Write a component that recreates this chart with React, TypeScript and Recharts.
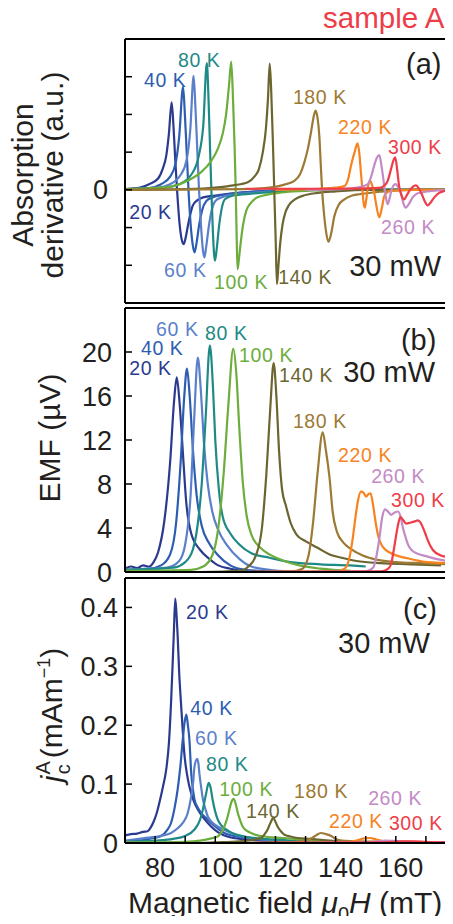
import React from 'react';
import { LineChart, Line, XAxis, YAxis, ReferenceDot } from 'recharts';

type Pt = [number, number];

const FONT = '"Liberation Sans", Arial, Helvetica, sans-serif';
const INK = '#231f20';

const temps = ['20 K', '40 K', '60 K', '80 K', '100 K', '140 K', '180 K', '220 K', '260 K', '300 K'];
const colors = ['#2b3a8f', '#2d5db1', '#5b80cb', '#1e8a86', '#6cad3c', '#6b6630', '#9c7a35', '#f7831f', '#c48ac5', '#ee3d48'];

const fieldTicks = [80, 90, 100, 110, 120, 130, 140, 150, 160, 170];

// (a) absorption derivative, arbitrary units  [mT, value]
const abs20: Pt[] = [[70, 0.02], [75, 0.06], [78, 0.15], [81, 0.3], [82.5, 0.55], [83.7, 0.9], [84.6, 1.5], [85.5, 2.32], [86.1, 1.7], [86.7, 0.8], [87.3, 0], [88.1, -0.87], [88.8, -1.3], [89.5, -1.44], [90.2, -1.25], [90.9, -0.95], [91.7, -0.65], [92.5, -0.42], [94, -0.28], [96, -0.2], [100, -0.15], [105, -0.1], [112, -0.05], [120, -0.02], [130, 0], [180, 0]];
const abs40: Pt[] = [[70, 0.02], [78, 0.05], [82, 0.15], [85, 0.35], [86.8, 0.7], [88, 1.4], [89.3, 2.73], [89.9, 2.0], [90.5, 1.0], [91.1, 0], [91.8, -0.9], [92.5, -1.45], [93.1, -1.66], [93.8, -1.4], [94.6, -0.95], [95.6, -0.55], [97, -0.3], [99, -0.2], [103, -0.13], [108, -0.08], [115, -0.04], [125, 0], [180, 0]];
const abs60: Pt[] = [[70, 0.02], [80, 0.05], [85, 0.15], [88.5, 0.4], [90.5, 0.8], [91.7, 1.6], [92.8, 3.02], [93.4, 2.2], [94, 1.1], [94.6, 0], [95.3, -1.0], [95.9, -1.6], [96.4, -1.79], [97, -1.5], [97.8, -1.0], [98.8, -0.55], [100, -0.3], [102, -0.2], [106, -0.13], [112, -0.08], [120, -0.04], [130, 0], [180, 0]];
const abs80: Pt[] = [[70, 0.02], [82, 0.05], [88, 0.15], [92, 0.4], [94.5, 0.9], [96, 1.7], [97.2, 3.36], [97.8, 2.3], [98.3, 1.0], [98.7, 0], [99.2, -1.1], [99.6, -1.7], [99.9, -1.88], [100.5, -1.55], [101.2, -1.0], [102, -0.55], [103.2, -0.25], [106, -0.15], [112, -0.1], [120, -0.05], [130, 0], [180, 0]];
const abs100: Pt[] = [[70, 0.02], [80, 0.05], [86, 0.1], [91, 0.25], [95.3, 0.47], [98.5, 0.75], [100.8, 1.08], [102.5, 1.5], [103.6, 2.0], [104.6, 2.8], [105.3, 3.4], [105.9, 2.4], [106.4, 1.2], [106.8, 0], [107.1, -1.2], [107.4, -2.1], [107.9, -1.8], [108.6, -1.3], [109.3, -0.9], [110.3, -0.55], [111.5, -0.38], [113.5, -0.22], [116, -0.15], [122, -0.07], [130, -0.03], [140, 0], [180, 0]];
const abs140: Pt[] = [[70, 0], [90, 0.02], [100, 0.06], [106, 0.12], [110.8, 0.2], [113, 0.35], [114.5, 0.55], [115.8, 1.0], [116.8, 1.6], [117.5, 2.4], [118.1, 3.35], [118.6, 2.6], [119.1, 1.4], [119.6, 0], [120.1, -1.4], [120.5, -2.5], [121, -2.0], [121.6, -1.4], [122.4, -0.9], [123.3, -0.6], [124.5, -0.4], [126.5, -0.25], [129, -0.16], [134, -0.08], [140, -0.04], [150, 0], [180, 0]];
const abs180: Pt[] = [[70, 0], [110, 0.02], [118, 0.06], [123, 0.14], [126.3, 0.24], [128.2, 0.42], [129.6, 0.73], [130.8, 1.1], [131.8, 1.52], [132.6, 1.9], [133.3, 2.1], [134, 1.9], [134.6, 1.4], [135.1, 0.6], [135.5, 0], [136.1, -0.6], [136.8, -1.1], [137.6, -1.38], [138.4, -1.2], [139.6, -0.69], [141, -0.4], [142.9, -0.25], [145.5, -0.15], [148.4, -0.11], [155, -0.05], [165, 0], [180, 0]];
const abs220: Pt[] = [[120, 0], [135, 0.03], [140, 0.06], [142.9, 0.1], [144.2, 0.3], [145.1, 0.64], [146.3, 1.0], [147.3, 1.23], [147.9, 0.95], [148.4, 0.46], [148.9, 0], [149.3, -0.35], [149.7, -0.47], [150.1, -0.3], [150.6, 0], [151, 0.18], [151.5, 0.24], [152, 0.15], [152.8, -0.07], [153.5, -0.4], [154.5, -0.73], [155.3, -0.5], [156.2, -0.16], [157.3, -0.06], [158.4, -0.03], [165, 0], [180, 0]];
const abs260: Pt[] = [[130, 0], [142, 0.02], [147, 0.06], [150.7, 0.15], [151.8, 0.35], [152.8, 0.64], [153.7, 0.85], [154.5, 0.92], [155.3, 0.6], [156, 0.2], [156.5, -0.1], [157.3, -0.38], [158, -0.2], [158.6, 0], [159.3, 0.12], [160, 0.15], [160.8, 0.07], [161.7, -0.07], [162.5, -0.35], [163.3, -0.47], [164.3, -0.38], [165.6, -0.2], [167, -0.1], [168.4, -0.07], [172, -0.03], [180, 0]];
const abs300: Pt[] = [[110, 0.03], [120, 0.03], [140, 0.03], [150, 0.04], [155.1, 0.06], [156.3, 0.12], [157.3, 0.24], [158.4, 0.55], [159.2, 0.78], [159.8, 0.86], [160.5, 0.5], [161.1, 0.1], [161.9, -0.15], [162.8, -0.25], [163.6, -0.15], [164.5, -0.03], [165.6, 0.08], [166.7, 0.12], [167.7, 0.03], [168.6, -0.11], [169.6, -0.3], [170.6, -0.41], [171.7, -0.32], [172.8, -0.2], [174.4, -0.08], [176.1, -0.03], [180, 0.02]];

// (b) EMF in µV
const emf20: Pt[] = [[70, 0.3], [72, 0.5], [74, 0.35], [76, 0.6], [78, 0.5], [79.5, 0.9], [81, 1.8], [83, 4.5], [85, 10], [86.3, 15.5], [87.2, 17.7], [88.1, 15.5], [89.2, 11], [90.3, 6.5], [92, 3.5], [95, 2.0], [98, 1.2], [101, 0.6], [105, 0.3], [110, 0.1], [120, 0.05]];
const emf40: Pt[] = [[70, 0.2], [78, 0.3], [82, 0.6], [85, 1.6], [87, 4.5], [88.5, 10], [89.7, 16], [90.6, 18.5], [91.5, 16], [92.6, 11], [93.8, 7], [95.5, 4.2], [98, 2.6], [101, 1.5], [105, 0.6], [110, 0.2], [120, 0.05]];
const emf60: Pt[] = [[70, 0.2], [84, 0.4], [88, 1], [90, 2.5], [91.8, 7], [93, 14], [94.2, 19.5], [95.2, 16.5], [96.3, 11.5], [97.5, 8], [99, 5.5], [101, 3.8], [104, 2.4], [108, 1.2], [112, 0.5], [118, 0.2], [125, 0.05]];
const emf80: Pt[] = [[70, 0.2], [86, 0.4], [90, 0.9], [92.5, 2], [94, 4], [95.5, 8], [96.8, 14], [98.2, 20.6], [99.2, 17], [100, 12], [101.2, 7.5], [102.5, 5], [105, 3.5], [108, 2.5], [112, 1.7], [118, 1.3], [125, 0.9], [135, 0.7], [145, 0.6], [150, 0.5]];
const emf100: Pt[] = [[70, 0.1], [92, 0.2], [96, 0.5], [99, 1.5], [101, 4], [102.8, 9], [104.3, 15], [106, 20.3], [107, 18], [108, 13], [109.2, 8], [110.5, 5], [112, 3.4], [115, 2.2], [118, 1.6], [122, 1.1], [128, 0.6], [135, 0.3], [145, 0.1]];
const emf140: Pt[] = [[95, 0], [108, 0.1], [111, 0.5], [113.5, 1.5], [115.5, 4], [117, 9], [118.3, 15], [119.4, 19], [120.3, 16], [121.2, 11], [122.2, 7.5], [123.5, 6], [125, 4.5], [127, 3.4], [130, 2.8], [134, 2.2], [138, 1.6], [142, 1.3], [147, 1.0], [155, 0.8], [165, 0.7], [175, 0.6]];
const emf180: Pt[] = [[105, 0], [125, 0.05], [129, 0.3], [131, 1.5], [132.5, 4.5], [134, 9], [135.7, 12.7], [136.8, 11], [138, 8.5], [139, 5.5], [140.5, 3.6], [142.5, 2.7], [145, 2.1], [149, 1.5], [154, 1.1], [160, 0.9], [168, 0.8], [178, 0.7]];
const emf220: Pt[] = [[120, 0], [140, 0.05], [143, 0.3], [144.5, 1.2], [145.6, 2.9], [146.6, 5], [147.5, 6.6], [148.4, 7.3], [149.3, 7.2], [150.1, 6.85], [151, 7.1], [151.6, 7.15], [152.5, 6], [153.3, 4.5], [154.2, 3.2], [155.6, 2.3], [158.4, 1.7], [163.9, 1.25], [170.6, 0.9], [180, 0.8]];
const emf260: Pt[] = [[120, 0], [150, 0.05], [152.5, 0.4], [153.6, 1.5], [154.5, 3], [155.5, 5], [156.4, 5.7], [157.4, 5.5], [158.4, 5.2], [159.6, 5.4], [160.8, 5.5], [161.6, 5], [162.3, 4.1], [163.2, 3.2], [163.9, 2.6], [166.1, 1.8], [170.6, 1.4], [175, 1.1], [180, 0.9]];
const emf300: Pt[] = [[110, 0], [155, 0.05], [157.5, 0.3], [158.4, 0.7], [159.5, 2.3], [160.6, 4.1], [161.5, 5], [162.5, 4.7], [163.4, 4.4], [165, 4.5], [166.3, 4.6], [167.3, 4.7], [168.2, 4.5], [168.9, 4.1], [169.8, 3.5], [170.6, 2.9], [172.3, 2.0], [175, 1.5], [180, 1.25]];

// (c) charge current density j_c^A in mA/m
const jc20: Pt[] = [[70, 0.013], [72, 0.015], [74, 0.016], [76, 0.019], [77.5, 0.02], [78.5, 0.026], [79.5, 0.036], [80.5, 0.05], [81.4, 0.068], [82.6, 0.095], [83.7, 0.125], [84.6, 0.17], [85.3, 0.238], [85.8, 0.3], [86.2, 0.352], [86.7, 0.415], [87.1, 0.39], [87.5, 0.352], [88, 0.29], [88.6, 0.238], [89.2, 0.19], [89.7, 0.153], [90.5, 0.12], [91.4, 0.096], [92.8, 0.072], [94.2, 0.057], [96.5, 0.04], [98.6, 0.028], [101, 0.018], [104, 0.011], [110, 0.006], [120, 0.003], [130, 0.002]];
const jc40: Pt[] = [[70, 0.003], [76, 0.005], [79, 0.008], [82, 0.012], [84, 0.022], [85.3, 0.034], [86.5, 0.06], [87.5, 0.091], [88.4, 0.13], [89.2, 0.176], [89.8, 0.205], [90.4, 0.218], [90.9, 0.2], [91.4, 0.176], [92, 0.119], [92.6, 0.09], [93.1, 0.074], [94.2, 0.06], [95.3, 0.051], [97, 0.042], [98.6, 0.034], [101, 0.024], [103, 0.017], [106, 0.012], [110, 0.0085], [118, 0.004], [130, 0.002]];
const jc60: Pt[] = [[70, 0.004], [76, 0.008], [82, 0.012], [85.3, 0.017], [87.5, 0.025], [89.2, 0.034], [90.8, 0.05], [92, 0.079], [92.6, 0.1], [93.1, 0.13], [94, 0.143], [94.4, 0.135], [94.7, 0.119], [95.3, 0.095], [95.9, 0.074], [96.7, 0.058], [97.5, 0.045], [99, 0.035], [100.8, 0.028], [103, 0.022], [105.2, 0.017], [108, 0.012], [112, 0.0085], [120, 0.004], [130, 0.002]];
const jc80: Pt[] = [[70, 0.002], [80, 0.004], [86, 0.007], [90, 0.012], [93.1, 0.023], [94.4, 0.033], [95.3, 0.045], [96.2, 0.065], [97, 0.085], [97.8, 0.102], [98.4, 0.095], [99.1, 0.074], [99.9, 0.055], [100.8, 0.04], [102, 0.03], [103.6, 0.023], [106, 0.016], [109.7, 0.011], [114, 0.008], [118.5, 0.006], [125, 0.004], [135, 0.002]];
const jc100: Pt[] = [[70, 0.001], [90, 0.002], [95, 0.004], [98, 0.007], [100.8, 0.011], [102, 0.018], [103, 0.028], [104, 0.043], [104.7, 0.057], [105.4, 0.07], [106.1, 0.075], [106.8, 0.066], [107.5, 0.051], [108.3, 0.038], [109.1, 0.028], [110.4, 0.021], [111.9, 0.017], [114, 0.013], [116.3, 0.011], [120, 0.009], [123, 0.0085], [130, 0.005], [140, 0.003]];
const jc140: Pt[] = [[95, 0], [100, 0.001], [108, 0.003], [112, 0.005], [115.2, 0.0085], [116.4, 0.015], [117.4, 0.023], [118.4, 0.035], [119.3, 0.0425], [120, 0.036], [120.7, 0.028], [121.8, 0.02], [123, 0.014], [125, 0.011], [127.4, 0.0085], [131.8, 0.007], [136, 0.005], [142, 0.003], [150, 0.002]];
const jc180: Pt[] = [[105, 0], [120, 0.001], [127, 0.002], [130, 0.004], [132, 0.008], [133.5, 0.013], [135.1, 0.017], [136.8, 0.015], [138.5, 0.012], [140, 0.007], [142, 0.004], [146, 0.003], [155, 0.002], [165, 0.001]];
const jc220: Pt[] = [[120, 0], [140, 0.001], [145, 0.002], [147.5, 0.005], [149.5, 0.008], [151.5, 0.0085], [153.5, 0.006], [156, 0.003], [160, 0.002], [170, 0.001], [180, 0.001]];
const jc260: Pt[] = [[120, 0], [150, 0.001], [154, 0.003], [156.5, 0.004], [159, 0.0035], [162, 0.003], [166, 0.002], [175, 0.001], [180, 0.001]];
const jc300: Pt[] = [[110, 0], [155, 0.001], [159, 0.002], [162, 0.003], [166, 0.003], [170, 0.002], [175, 0.001], [180, 0.001]];

// curve labels: [temperature index, field at text start, value at baseline]
const labelsA: number[][] = [[3, 87.6, 3.25], [1, 76.3, 2.72], [6, 125.8, 2.27], [7, 140.8, 1.48], [9, 157.4, 0.95], [0, 71.4, -0.78], [8, 155.1, -1.18], [2, 83, -2.32], [4, 99.6, -2.63], [5, 120.9, -2.5]];
const labelsB: number[][] = [[2, 80.3, 21.5], [3, 96.6, 21.1], [1, 75.3, 19.7], [0, 71.4, 17.9], [4, 107.9, 19.1], [5, 121.2, 17.3], [6, 125.8, 13.1], [7, 140.8, 10.0], [8, 151.8, 8.1], [9, 158.4, 5.9]];
const labelsC: number[][] = [[0, 90.3, 0.38], [1, 91.7, 0.218], [2, 93.3, 0.166], [3, 96.9, 0.122], [4, 101.3, 0.079], [5, 110.2, 0.0426], [6, 126.2, 0.0766], [8, 150.8, 0.065], [7, 137.8, 0.0255], [9, 157.7, 0.0226]];

const absSeries = [abs20, abs40, abs60, abs80, abs100, abs140, abs180, abs220, abs260, abs300];
const emfSeries = [emf20, emf40, emf60, emf80, emf100, emf140, emf180, emf220, emf260, emf300];
const jcSeries = [jc20, jc40, jc60, jc80, jc100, jc140, jc180, jc220, jc260, jc300];

const toRows = (pts: Pt[]) => pts.map(([f, v]) => ({ f, v }));

const textAt = (text: string, color: string, size: number, spacing: number) => (p: any) => (
  <text x={p.viewBox.x} y={p.viewBox.y} fill={color} fontSize={size} fontFamily={FONT}
    letterSpacing={spacing} textAnchor="start">
    {text}
  </text>
);

function tag(key: string, f: number, v: number, text: string, color: string, size: number, spacing = 0) {
  return (
    <ReferenceDot key={key} xAxisId="b" yAxisId="l" x={f} y={v} r={0} fill="none" stroke="none"
      ifOverflow="visible" label={textAt(text, color, size, spacing)} />
  );
}

// field tick labels sit a few pixels right of their ticks in the original
const FieldTick = (props: any) => {
  const v = props.payload.value;
  if (v % 20 !== 0) return null;
  return (
    <text x={props.x + 5} y={props.y} dy="0.71em" textAnchor="middle" fontSize={27} fill={INK} fontFamily={FONT}>
      {v}
    </text>
  );
};

interface PanelProps {
  top: number;
  marginTop: number;
  plotH: number;
  series: Pt[][];
  yDomain: [number, number];
  yTicks: number[];
  yFmt: (v: number) => string;
  yTickMargin: number;
  labels: number[][];
  panelTag: [string, number, number];
  power: [number, number];
  showX: boolean;
}

function Panel(p: PanelProps) {
  const bottomH = p.showX ? 60 : 20;
  const h = p.marginTop + 1 + p.plotH + bottomH;
  const axisLine = { stroke: '#000', strokeWidth: 2 };
  const tickLine = { stroke: '#000', strokeWidth: 1.5 };
  return (
    <div style={{ position: 'absolute', left: 0, top: p.top }}>
      <LineChart width={470} height={h} margin={{ top: p.marginTop, right: 13, bottom: 0, left: 65 }}>
        <XAxis xAxisId="b" type="number" dataKey="f" domain={[70, 180]} ticks={fieldTicks} allowDataOverflow
          interval={0} height={bottomH} tickSize={-7} tickMargin={22} axisLine={axisLine} tickLine={tickLine}
          tick={p.showX ? <FieldTick /> : false} />
        <XAxis xAxisId="t" orientation="top" type="number" dataKey="f" domain={[70, 180]} ticks={fieldTicks}
          allowDataOverflow interval={0} height={1} tickSize={-7} axisLine={axisLine} tickLine={tickLine} tick={false} />
        <YAxis yAxisId="l" type="number" domain={p.yDomain} ticks={p.yTicks} allowDataOverflow interval={0}
          width={60} tickSize={-7} tickMargin={p.yTickMargin} axisLine={axisLine} tickLine={tickLine}
          tick={{ fontSize: 27, fill: INK, fontFamily: FONT }} tickFormatter={p.yFmt} />
        <YAxis yAxisId="r" orientation="right" type="number" domain={p.yDomain} ticks={p.yTicks} allowDataOverflow
          interval={0} width={1} tickSize={-7} axisLine={axisLine} tickLine={tickLine} tick={false} />
        {p.series.map((s, i) => (
          <Line key={temps[i]} xAxisId="b" yAxisId="l" data={toRows(s)} dataKey="v" type="monotone"
            stroke={colors[i]} strokeWidth={2.2} dot={false} isAnimationActive={false} />
        ))}
        {p.labels.map(([ti, f, v]) => tag(temps[ti], f, v, temps[ti], colors[ti], 19.5, 0.6))}
        {tag('panel', p.panelTag[1], p.panelTag[2], p.panelTag[0], INK, 29)}
        {tag('power', p.power[0], p.power[1], '30 mW', INK, 29)}
      </LineChart>
    </div>
  );
}

export default function App() {
  return (
    <div style={{ position: 'relative', width: 453, height: 924, margin: -8, overflow: 'hidden', background: '#fff' }}>
      <Panel top={0} marginTop={38} plotH={264} series={absSeries} yDomain={[-3, 4]} yTicks={[-2, -1, 0, 1, 2, 3]}
        yFmt={(v) => (v === 0 ? '0' : '')} yTickMargin={24} labels={labelsA}
        panelTag={['(a)', 163.4, 3.07]} power={[144.5, -2.29]} showX={false} />
      <Panel top={300} marginTop={7} plotH={264} series={emfSeries} yDomain={[0, 24]} yTicks={[0, 4, 8, 12, 16, 20]}
        yFmt={(v) => String(v)} yTickMargin={20} labels={labelsB}
        panelTag={['(b)', 161.7, 20.2]} power={[142.5, 17.3]} showX={false} />
      <Panel top={570} marginTop={7} plotH={265} series={jcSeries} yDomain={[0, 0.45]} yTicks={[0, 0.1, 0.2, 0.3, 0.4]}
        yFmt={(v) => (v === 0 ? '0' : v.toFixed(1))} yTickMargin={14} labels={labelsC}
        panelTag={['(c)', 162.4, 0.38]} power={[140.8, 0.323]} showX={true} />
      <svg width={453} height={924} style={{ position: 'absolute', left: 0, top: 0, pointerEvents: 'none' }}
        fontFamily={FONT}>
        <text x={323} y={28} fill="#ee3d48" fontSize={29.5}>sample A</text>
        <g fill={INK} fontSize={30} textAnchor="middle">
          <text x={33} y={175} transform="rotate(-90 33 175)">Absorption</text>
          <text x={63} y={175} transform="rotate(-90 63 175)">derivative (a.u.)</text>
          <text x={60} y={438} transform="rotate(-90 60 438)">EMF (µV)</text>
          <text x={62} y={715} transform="rotate(-90 62 715)">
            <tspan fontStyle="italic">j</tspan>
            <tspan fontSize={20} dy={-12} dx={1}>A</tspan>
            <tspan fontSize={20} dy={20} dx={-13}>c</tspan>
            <tspan dy={-8} dx={6}>(mAm</tspan>
            <tspan fontSize={18} dy={-12}>−1</tspan>
            <tspan dy={12}>)</tspan>
          </text>
        </g>
        <text x={128} y={913} fill={INK} fontSize={30}>
          Magnetic field <tspan fontStyle="italic">μ</tspan>
          <tspan fontSize={20} dy={8}>0</tspan>
          <tspan fontStyle="italic" dy={-8}>H</tspan> (mT)
        </text>
      </svg>
    </div>
  );
}
